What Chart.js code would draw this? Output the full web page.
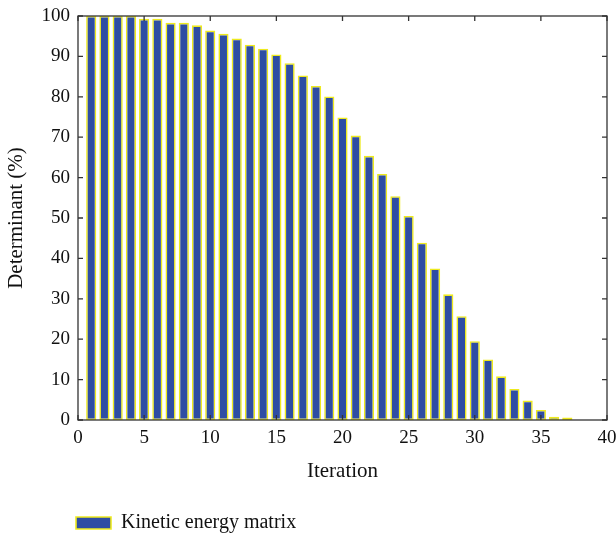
<!DOCTYPE html>
<html lang="en">
<head>
    <meta charset="UTF-8">
    <title>Determinant chart</title>
    <script src="https://cdn.jsdelivr.net/npm/chart.js"></script>
    <style>
        body {
            margin: 0;
            background-color: #ffffff;
        }
        #detChart {
            display: block;
        }
    </style>
</head>
<body>
<canvas id="detChart" width="616" height="536"></canvas>

<script>
    // values
    const iterations = [1, 2, 3, 4, 5, 6, 7, 8, 9, 10, 11, 12, 13, 14, 15, 16, 17, 18, 19,
        20, 21, 22, 23, 24, 25, 26, 27, 28, 29, 30, 31, 32, 33, 34, 35, 36, 37];
    const determinant = [100, 100, 100, 100, 99.3, 99.3, 98.3, 98.3, 97.7, 96.4, 95.6, 94.4, 92.9,
        91.9, 90.5, 88.3, 85.3, 82.7, 80.1, 74.9, 70.4, 65.4, 60.9, 55.4, 50.5, 43.9, 37.5,
        31.1, 25.7, 19.5, 15.0, 10.8, 7.7, 4.8, 2.5, 0.8, 0.6];
    const seriesLabel = 'Kinetic energy matrix';

    const fontFamily = '"Liberation Serif", "Times New Roman", serif';
    const axisColor = '#333333';

    // frame around the plot with inward ticks on every side
    const framePlugin = {
        id: 'frame',
        afterLayout(chart) {
            // move legend so it starts under the y axis, a bit lower
            chart.legend.left += 70;
            chart.legend.right += 70;
            chart.legend.top += 7;
            chart.legend.bottom += 7;
        },
        afterDatasetsDraw(chart) {
            const ctx = chart.ctx;
            const area = chart.chartArea;
            const xs = chart.scales.x;
            const ys = chart.scales.y;
            const len = 5;
            ctx.save();
            ctx.strokeStyle = axisColor;
            ctx.lineWidth = 1.3;
            ctx.strokeRect(area.left, area.top, area.right - area.left, area.bottom - area.top);
            ctx.beginPath();
            xs.ticks.forEach(t => {
                const px = xs.getPixelForValue(t.value);
                ctx.moveTo(px, area.bottom);
                ctx.lineTo(px, area.bottom - len);
                ctx.moveTo(px, area.top);
                ctx.lineTo(px, area.top + len);
            });
            ys.ticks.forEach(t => {
                const py = ys.getPixelForValue(t.value);
                ctx.moveTo(area.left, py);
                ctx.lineTo(area.left + len, py);
                ctx.moveTo(area.right, py);
                ctx.lineTo(area.right - len, py);
            });
            ctx.stroke();
            ctx.restore();
        }
    };

    const ctx = document.getElementById('detChart').getContext('2d');
    const chart = new Chart(ctx, {
        type: 'bar',
        data: {
            datasets: [{
                label: seriesLabel,
                data: iterations.map((it, i) => ({x: it, y: determinant[i]})),
                backgroundColor: '#2e4da3',
                borderColor: '#eeea1e',
                borderWidth: 1.6,
                borderSkipped: false,
                barPercentage: 0.77,
                categoryPercentage: 1.0
            }]
        },
        options: {
            responsive: false,
            animation: false,
            layout: {
                padding: {top: 16, right: 9, left: 0, bottom: 0}
            },
            plugins: {
                tooltip: {enabled: false},
                legend: {
                    position: 'bottom',
                    align: 'start',
                    labels: {
                        boxWidth: 35,
                        boxHeight: 12,
                        padding: 6,
                        color: '#111111',
                        font: {family: fontFamily, size: 20}
                    }
                }
            },
            scales: {
                x: {
                    type: 'linear',
                    offset: false,
                    min: 0,
                    max: 40,
                    grid: {display: false, drawTicks: false, offset: false},
                    border: {display: false},
                    ticks: {
                        stepSize: 5,
                        padding: 7,
                        color: '#111111',
                        font: {family: fontFamily, size: 19}
                    },
                    title: {
                        display: true,
                        text: 'Iteration',
                        color: '#111111',
                        font: {family: fontFamily, size: 21},
                        padding: {top: 4, bottom: 16}
                    },
                    afterFit(scale) {
                        scale.height = 80;
                        scale.paddingLeft = 0;
                        scale.paddingRight = 0;
                    }
                },
                y: {
                    min: 0,
                    max: 100,
                    grid: {display: false, drawTicks: false},
                    border: {display: false},
                    ticks: {
                        stepSize: 10,
                        padding: 8,
                        color: '#111111',
                        font: {family: fontFamily, size: 19}
                    },
                    title: {
                        display: true,
                        text: 'Determinant (%)',
                        color: '#111111',
                        font: {family: fontFamily, size: 21},
                        padding: {top: 4, bottom: 0}
                    },
                    afterFit(scale) {
                        scale.width = 78;
                        scale.paddingTop = 0;
                        scale.paddingBottom = 0;
                    }
                }
            }
        },
        plugins: [framePlugin]
    });
</script>
</body>
</html>
